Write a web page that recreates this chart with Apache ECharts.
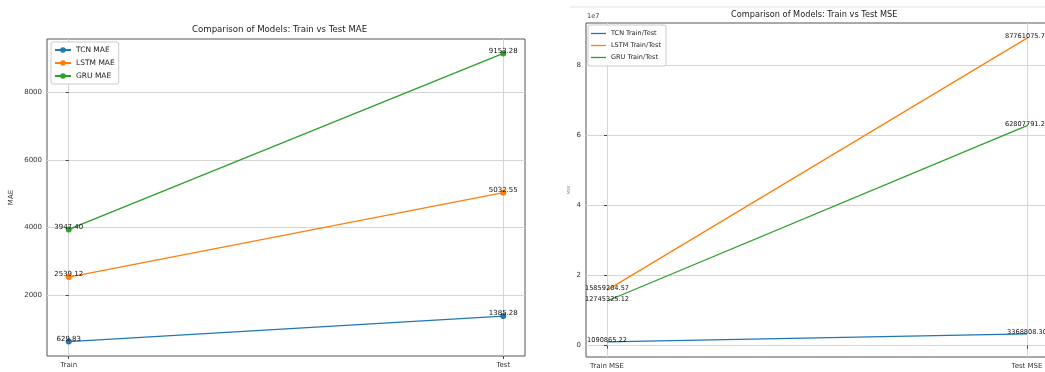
<!DOCTYPE html>
<html>
<head>
<meta charset="utf-8">
<script src="https://cdn.jsdelivr.net/npm/echarts@6/dist/echarts.min.js"></script>
<style>
html,body{margin:0;padding:0;background:#fff;}
#chart{width:1045px;height:372px;}
</style>
</head>
<body>
<div id="chart"></div>
<script>
// ---- data ----
const categoriesMAE = ['Train', 'Test'];
const tcnMAE = [629.83, 1385.28];
const lstmMAE = [2539.12, 5032.55];
const gruMAE = [3947.40, 9153.28];
const maeTicks = [2000, 4000, 6000, 8000];

const categoriesMSE = ['Train MSE', 'Test MSE'];
const tcnMSE = [1090865.22, 3368808.30];
const lstmMSE = [15859204.57, 87761075.74];
const gruMSE = [12745325.12, 62807791.24];
const mseTicks = [0, 20000000, 40000000, 60000000, 80000000];

const C_TCN = '#1f77b4', C_LSTM = '#ff7f0e', C_GRU = '#2ca02c';
const FONT = 'DejaVu Sans';

function pts(arr) { return arr.map((v, i) => [i, v]); }

function xAxisFor(gridIndex, cats) {
  return {
    type: 'value', gridIndex: gridIndex, min: -0.05, max: 1.05,
    axisLine: { show: false },
    axisTick: { show: true, length: 3, customValues: [0, 1], lineStyle: { color: '#444' } },
    axisLabel: { customValues: [0, 1], formatter: v => cats[Math.round(v)], color: '#333', fontFamily: FONT, fontSize: 7, margin: 6 },
    splitLine: { show: true, lineStyle: { color: '#d6d6d6', width: 1 } }
  };
}

function labelCfg(size, dist) {
  return { show: true, position: 'top', distance: dist, color: '#111', fontFamily: FONT, fontSize: size,
           formatter: p => p.value[1].toFixed(2) };
}

function maeSeries(name, arr, color) {
  return {
    name: name, type: 'line', xAxisIndex: 0, yAxisIndex: 0, data: pts(arr),
    symbol: 'circle', symbolSize: 6, showSymbol: true,
    lineStyle: { color: color, width: 1.3 }, itemStyle: { color: color },
    label: labelCfg(7, -4), emphasis: { disabled: true }, animation: false
  };
}
function mseSeries(name, arr, color) {
  return {
    name: name, type: 'line', xAxisIndex: 1, yAxisIndex: 1, data: pts(arr),
    symbol: 'circle', symbolSize: 0.01, showSymbol: true,
    lineStyle: { color: color, width: 1.3 }, itemStyle: { color: color },
    label: labelCfg(6.6, -2), emphasis: { disabled: true }, animation: false
  };
}

const chart = echarts.init(document.getElementById('chart'), null, { renderer: 'canvas' });
chart.setOption({
  animation: false,
  backgroundColor: '#fff',
  grid: [
    { left: 47, top: 39, width: 478, height: 317, show: true, borderColor: '#555', borderWidth: 1, outerBoundsMode: 'none', containLabel: false },
    { left: 586, top: 23, width: 462, height: 334, show: true, borderColor: '#555', borderWidth: 1, outerBoundsMode: 'none', containLabel: false }
  ],
  xAxis: [ xAxisFor(0, categoriesMAE), xAxisFor(1, categoriesMSE) ],
  yAxis: [
    {
      type: 'value', gridIndex: 0, min: 203.7, max: 9579.5,
      name: 'MAE', nameLocation: 'middle', nameRotate: 90, nameGap: 32,
      nameTextStyle: { color: '#333', fontFamily: FONT, fontSize: 7 },
      axisLine: { show: false },
      axisTick: { show: true, length: 3, customValues: maeTicks, lineStyle: { color: '#444' } },
      axisLabel: { customValues: maeTicks, formatter: v => String(Math.round(v)), color: '#333', fontFamily: FONT, fontSize: 7, margin: 5 },
      splitLine: { show: true, lineStyle: { color: '#d6d6d6', width: 1 } }
    },
    {
      type: 'value', gridIndex: 1, min: -3243000, max: 92094600,
      name: 'MSE', nameLocation: 'middle', nameRotate: 90, nameGap: 15,
      nameTextStyle: { color: '#777', fontFamily: FONT, fontSize: 4 },
      axisLine: { show: false },
      axisTick: { show: true, length: 3, customValues: mseTicks, lineStyle: { color: '#444' } },
      axisLabel: { customValues: mseTicks, formatter: v => String(Math.round(v / 1e7)), color: '#333', fontFamily: FONT, fontSize: 7, margin: 5 },
      splitLine: { show: true, lineStyle: { color: '#d6d6d6', width: 1 } }
    }
  ],
  legend: [
    {
      data: ['TCN MAE', 'LSTM MAE', 'GRU MAE'], orient: 'vertical', left: 51, top: 42,
      itemWidth: 16, itemHeight: 7, itemGap: 5, padding: [4, 4, 4, 3],
      backgroundColor: '#fff', borderColor: '#ccc', borderWidth: 1, borderRadius: 2,
      textStyle: { color: '#222', fontFamily: FONT, fontSize: 7.5, lineHeight: 8 },
      selectedMode: false
    },
    {
      data: [
        { name: 'TCN Train/Test', icon: 'rect' },
        { name: 'LSTM Train/Test', icon: 'rect' },
        { name: 'GRU Train/Test', icon: 'rect' }
      ],
      orient: 'vertical', left: 588, top: 25,
      itemWidth: 15, itemHeight: 1.3, itemGap: 5, padding: [5, 5, 5, 3],
      backgroundColor: '#fff', borderColor: '#ccc', borderWidth: 1, borderRadius: 2,
      textStyle: { color: '#222', fontFamily: FONT, fontSize: 6.5, lineHeight: 7 },
      selectedMode: false
    }
  ],
  graphic: [
    { type: 'text', left: 192, top: 25, style: { text: 'Comparison of Models: Train vs Test MAE', font: '8.6px "DejaVu Sans"', fill: '#222' } },
    { type: 'text', left: 731, top: 11, style: { text: 'Comparison of Models: Train vs Test MSE', font: '8.2px "DejaVu Sans"', fill: '#222' } },
    { type: 'text', left: 587, top: 13, style: { text: '1e7', font: '6.5px "DejaVu Sans"', fill: '#333' } },
    { type: 'line', shape: { x1: 570, y1: 7, x2: 1045, y2: 7 }, style: { stroke: '#e2e2e2', lineWidth: 1 } }
  ],
  series: [
    maeSeries('TCN MAE', tcnMAE, C_TCN),
    maeSeries('LSTM MAE', lstmMAE, C_LSTM),
    maeSeries('GRU MAE', gruMAE, C_GRU),
    mseSeries('TCN Train/Test', tcnMSE, C_TCN),
    mseSeries('LSTM Train/Test', lstmMSE, C_LSTM),
    mseSeries('GRU Train/Test', gruMSE, C_GRU)
  ]
});
</script>
</body>
</html>
